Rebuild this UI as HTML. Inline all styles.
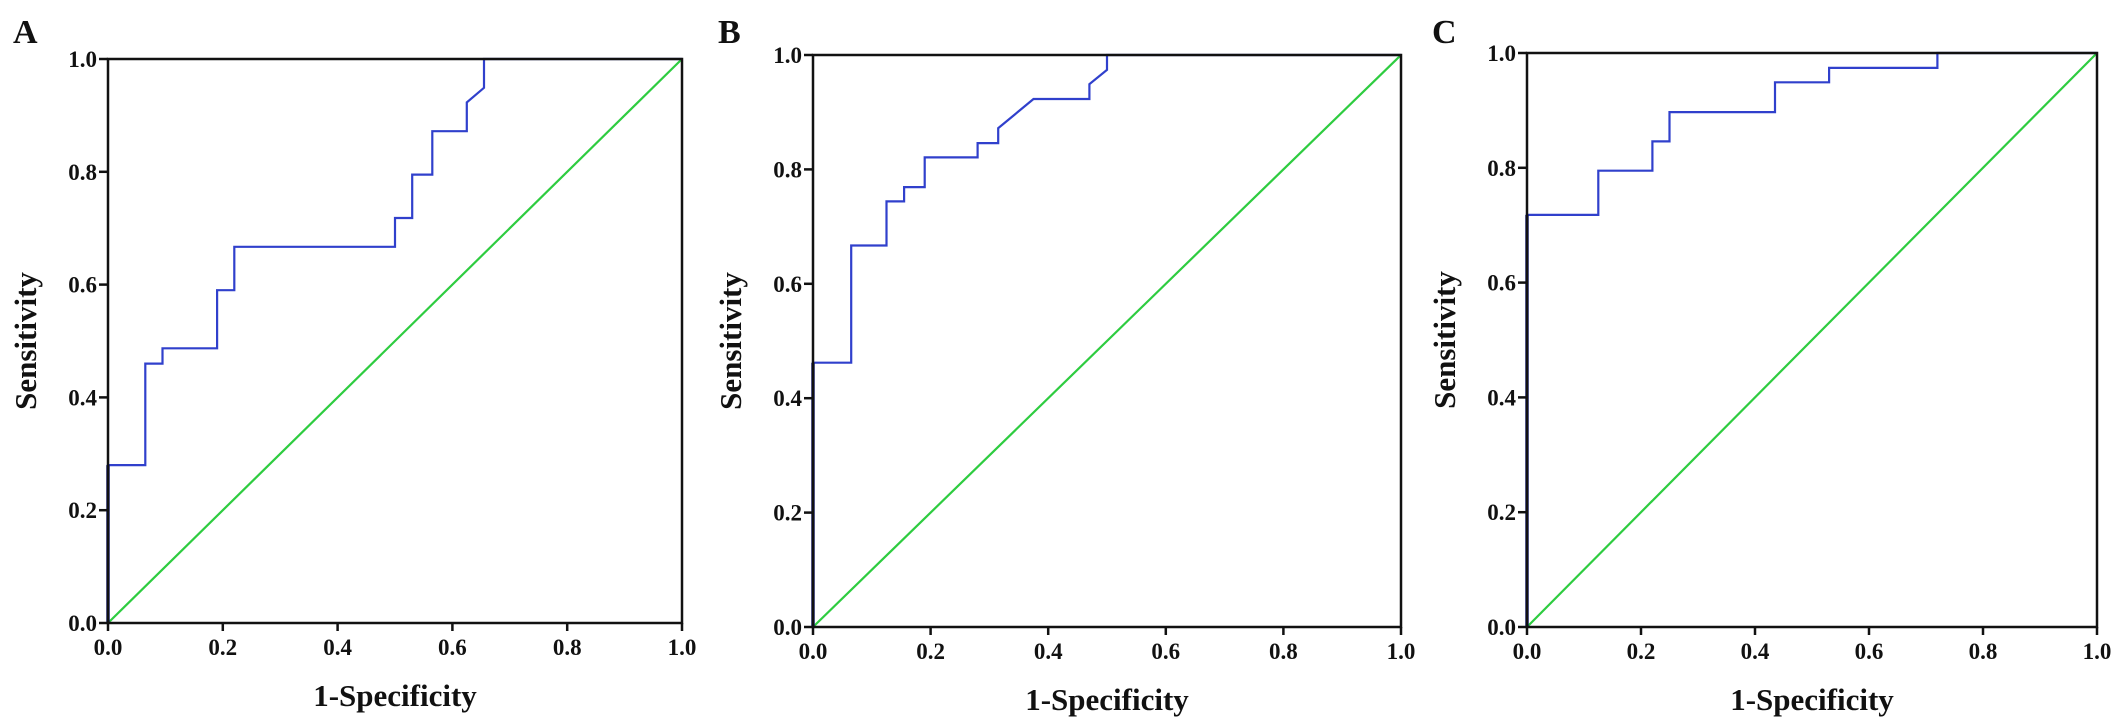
<!DOCTYPE html>
<html><head><meta charset="utf-8"><style>
html,body{margin:0;padding:0;background:#fff;}
svg{display:block;}
text{font-family:"Liberation Serif",serif;font-weight:bold;fill:#111;}
</style></head><body>
<svg id="fig" width="2126" height="725" viewBox="0 0 2126 725" xmlns="http://www.w3.org/2000/svg"></svg>
<script>
const ticks = [0, 0.2, 0.4, 0.6, 0.8, 1.0];
const tickLabels = ["0.0", "0.2", "0.4", "0.6", "0.8", "1.0"];
const panelLabels = ["A", "B", "C"];
const fprA = [0,0,0.065,0.065,0.095,0.095,0.19,0.19,0.22,0.22,0.5,0.5,0.53,0.53,0.565,0.565,0.625,0.625,0.655,0.655,1];
const tprA = [0,0.28,0.28,0.46,0.46,0.487,0.487,0.59,0.59,0.667,0.667,0.718,0.718,0.795,0.795,0.872,0.872,0.923,0.949,1,1];
const fprB = [0,0,0.065,0.065,0.125,0.125,0.155,0.155,0.19,0.19,0.28,0.28,0.315,0.315,0.375,0.47,0.47,0.5,0.5,1];
const tprB = [0,0.462,0.462,0.667,0.667,0.744,0.744,0.769,0.769,0.821,0.821,0.846,0.846,0.872,0.923,0.923,0.949,0.974,1,1];
const fprC = [0,0,0.125,0.125,0.22,0.22,0.25,0.25,0.435,0.435,0.53,0.53,0.72,0.72,1];
const tprC = [0,0.718,0.718,0.795,0.795,0.846,0.846,0.897,0.897,0.949,0.949,0.974,0.974,1,1];
const diag = [0, 1];

const panels = [
  {x0:108, x1:682, y0:623, y1:59, fpr:fprA, tpr:tprA},
  {x0:813, x1:1401, y0:627, y1:55, fpr:fprB, tpr:tprB},
  {x0:1527, x1:2097, y0:627, y1:53, fpr:fprC, tpr:tprC}
];
const NS = "http://www.w3.org/2000/svg";
const svg = document.getElementById("fig");
function mk(tag, attrs, parent){
  const e = document.createElementNS(NS, tag);
  for (const k in attrs) e.setAttribute(k, attrs[k]);
  (parent||svg).appendChild(e);
  return e;
}
panels.forEach((p, i) => {
  const g = mk("g", {});
  
  
  const sx = v => p.x0 + v * (p.x1 - p.x0);
  const sy = v => p.y0 + v * (p.y1 - p.y0);
  const lbl = mk("text", {x: p.x0 - 95, y: 43, "font-size": 34}, g);
  lbl.textContent = panelLabels[i];
  
  
  const dl = mk("line", {x1: sx(diag[0]), y1: sy(diag[0]), x2: sx(diag[1]), y2: sy(diag[1]), stroke:"#2ecc40", "stroke-width":2.2}, g);
  
  
  const pts = p.fpr.map((f, k) => sx(f).toFixed(1) + "," + sy(p.tpr[k]).toFixed(1)).join(" ");
  const rl = mk("polyline", {points: pts, fill:"none", stroke:"#3040cc", "stroke-width":2.2}, g);
  
  
  const rl2 = mk("line", {x1: sx(0), y1: sy(0), x2: sx(0), y2: sy(p.tpr[1]), stroke:"#1a237e", "stroke-width":3.5}, g);
  
  
  const fr = mk("rect", {x: p.x0, y: p.y1, width: p.x1 - p.x0, height: p.y0 - p.y1, fill:"none", stroke:"#111", "stroke-width":2.5}, g);
  
  
  ticks.forEach((t, k) => {
    const tx = mk("line", {x1: sx(t), y1: p.y0, x2: sx(t), y2: p.y0 + 8, stroke:"#111", "stroke-width":2.5}, g);
    
    
    const xl = mk("text", {x: sx(t), y: p.y0 + 32, "font-size": 23, "text-anchor":"middle"}, g);
    xl.textContent = tickLabels[k];
    
    
    const ty = mk("line", {x1: p.x0 - 9, y1: sy(t), x2: p.x0, y2: sy(t), stroke:"#111", "stroke-width":2.5}, g);
    
    
    const yl = mk("text", {x: p.x0 - 11, y: sy(t) + 8, "font-size": 23, "text-anchor":"end"}, g);
    yl.textContent = tickLabels[k];
    
    
  });
  const xt = mk("text", {x: (p.x0 + p.x1) / 2, y: p.y0 + 83, "font-size": 31, "text-anchor":"middle"}, g);
  xt.textContent = "1-Specificity";
  
  
  const cy = (p.y0 + p.y1) / 2;
  const yt = mk("text", {x: p.x0 - 72, y: cy, "font-size": 31, "text-anchor":"middle", transform: "rotate(-90 " + (p.x0 - 72) + " " + cy + ")"}, g);
  yt.textContent = "Sensitivity";
  
  
});
</script>
</body></html>
